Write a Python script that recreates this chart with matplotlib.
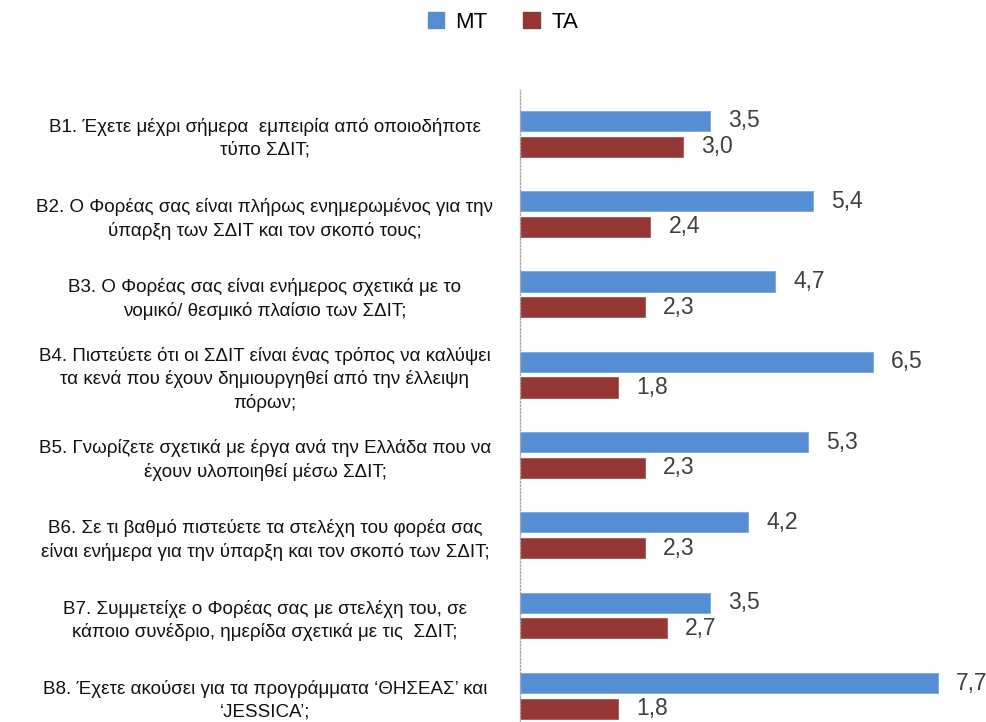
import numpy as np
import matplotlib
matplotlib.use("Agg")
import matplotlib.pyplot as plt
from matplotlib.patches import Patch

plt.rcParams['font.family'] = ['Liberation Sans Narrow', 'Liberation Sans', 'DejaVu Sans']

questions = [
    "B1. Έχετε μέχρι σήμερα  εμπειρία από οποιοδήποτε\nτύπο ΣΔΙΤ;",
    "B2. Ο Φορέας σας είναι πλήρως ενημερωμένος για την\nύπαρξη των ΣΔΙΤ και τον σκοπό τους;",
    "B3. Ο Φορέας σας είναι ενήμερος σχετικά με το\nνομικό/ θεσμικό πλαίσιο των ΣΔΙΤ;",
    "B4. Πιστεύετε ότι οι ΣΔΙΤ είναι ένας τρόπος να καλύψει\nτα κενά που έχουν δημιουργηθεί από την έλλειψη\nπόρων;",
    "B5. Γνωρίζετε σχετικά με έργα ανά την Ελλάδα που να\nέχουν υλοποιηθεί μέσω ΣΔΙΤ;",
    "B6. Σε τι βαθμό πιστεύετε τα στελέχη του φορέα σας\nείναι ενήμερα για την ύπαρξη και τον σκοπό των ΣΔΙΤ;",
    "B7. Συμμετείχε ο Φορέας σας με στελέχη του, σε\nκάποιο συνέδριο, ημερίδα σχετικά με τις  ΣΔΙΤ;",
    "B8. Έχετε ακούσει για τα προγράμματα ‘ΘΗΣΕΑΣ’ και\n‘JESSICA’;",
]
mt = [3.5, 5.4, 4.7, 6.5, 5.3, 4.2, 3.5, 7.7]
ta = [3.0, 2.4, 2.3, 1.8, 2.3, 2.3, 2.7, 1.8]

c_mt = '#558ED5'
c_ta = '#953735'

fig = plt.figure(figsize=(9.86, 7.22), dpi=100)
ax = fig.add_axes([520 / 986, 0, 466 / 986, (722 - 90) / 722])

y = np.arange(len(questions))
off = 0.16
h = 0.25
b1 = ax.barh(y - off, mt, height=h, color=c_mt, edgecolor='#7AA7DF', linewidth=0.6)
b2 = ax.barh(y + off, ta, height=h, color=c_ta, edgecolor='#A85654', linewidth=0.6)

# value labels, comma as decimal sign
for bars, vals in ((b1, mt), (b2, ta)):
    for r, v in zip(bars, vals):
        ax.annotate(f"{v:.1f}".replace('.', ','),
                    (r.get_width(), r.get_y() + r.get_height() / 2),
                    xytext=(13, 0), textcoords='offset points',
                    va='center', ha='left', fontsize=16.5, color='#404040')

ax.set_xlim(0, 8.58)
ax.set_ylim(7.325, -0.545)
ax.set_xticks([])
ax.set_yticks(y)
ax.set_yticklabels(questions, ha='center', multialignment='center',
                   fontsize=13.5, linespacing=1.4, color='#111111',
                   fontweight='medium')
ax.tick_params(axis='y', length=0, pad=255 * 0.72)
for s in ('top', 'right', 'bottom'):
    ax.spines[s].set_visible(False)
ax.spines['left'].set_linestyle((0, (1, 1.5)))
ax.spines['left'].set_color('#a6a6a6')
ax.spines['left'].set_linewidth(1)

handles = [Patch(color=c_mt, label='MT'), Patch(color=c_ta, label='TA')]
fig.legend(handles=handles, loc='center', bbox_to_anchor=(0.51, 1 - 22 / 722),
           ncol=2, frameon=False, fontsize=16, handlelength=0.75, handleheight=0.75,
           handletextpad=0.5, columnspacing=1.6)

fig.savefig('out.png', dpi=100)
